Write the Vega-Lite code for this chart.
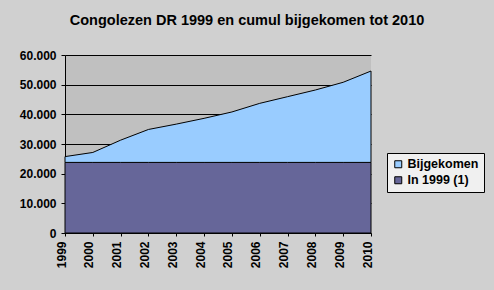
{
  "$schema": "https://vega.github.io/schema/vega-lite/v6.json",
  "width": 306,
  "height": 178,
  "autosize": {"type": "none"},
  "padding": {"left": 65, "top": 55, "right": 123, "bottom": 57},
  "background": "#d0d0d0",
  "title": {
    "text": "Congolezen DR 1999 en cumul bijgekomen tot 2010",
    "font": "Liberation Sans",
    "fontSize": 14.5,
    "fontWeight": "bold",
    "color": "black",
    "anchor": "middle",
    "dx": 29,
    "offset": 21
  },
  "data": {
    "values": [
      {"year": "1999", "series": "In 1999 (1)", "value": 23800, "ord": 1},
      {"year": "2000", "series": "In 1999 (1)", "value": 23800, "ord": 1},
      {"year": "2001", "series": "In 1999 (1)", "value": 23800, "ord": 1},
      {"year": "2002", "series": "In 1999 (1)", "value": 23800, "ord": 1},
      {"year": "2003", "series": "In 1999 (1)", "value": 23800, "ord": 1},
      {"year": "2004", "series": "In 1999 (1)", "value": 23800, "ord": 1},
      {"year": "2005", "series": "In 1999 (1)", "value": 23800, "ord": 1},
      {"year": "2006", "series": "In 1999 (1)", "value": 23800, "ord": 1},
      {"year": "2007", "series": "In 1999 (1)", "value": 23800, "ord": 1},
      {"year": "2008", "series": "In 1999 (1)", "value": 23800, "ord": 1},
      {"year": "2009", "series": "In 1999 (1)", "value": 23800, "ord": 1},
      {"year": "2010", "series": "In 1999 (1)", "value": 23800, "ord": 1},
      {"year": "1999", "series": "Bijgekomen", "value": 1950, "ord": 2},
      {"year": "2000", "series": "Bijgekomen", "value": 3350, "ord": 2},
      {"year": "2001", "series": "Bijgekomen", "value": 7500, "ord": 2},
      {"year": "2002", "series": "Bijgekomen", "value": 11100, "ord": 2},
      {"year": "2003", "series": "Bijgekomen", "value": 12900, "ord": 2},
      {"year": "2004", "series": "Bijgekomen", "value": 14850, "ord": 2},
      {"year": "2005", "series": "Bijgekomen", "value": 17000, "ord": 2},
      {"year": "2006", "series": "Bijgekomen", "value": 19900, "ord": 2},
      {"year": "2007", "series": "Bijgekomen", "value": 22150, "ord": 2},
      {"year": "2008", "series": "Bijgekomen", "value": 24400, "ord": 2},
      {"year": "2009", "series": "Bijgekomen", "value": 27000, "ord": 2},
      {"year": "2010", "series": "Bijgekomen", "value": 30800, "ord": 2}
    ]
  },
  "mark": {"type": "area", "stroke": "black", "strokeWidth": 1, "opacity": 1},
  "encoding": {
    "x": {
      "field": "year",
      "type": "ordinal",
      "scale": {"type": "point", "padding": 0},
      "axis": {
        "title": null,
        "labelAngle": -90,
        "labelFont": "Liberation Sans",
        "labelFontSize": 12,
        "labelFontWeight": "bold",
        "labelColor": "black",
        "labelPadding": 5,
        "labelOffset": -4,
        "tickSize": 3,
        "tickColor": "black",
        "domainColor": "black",
        "grid": false
      }
    },
    "y": {
      "field": "value",
      "type": "quantitative",
      "stack": "zero",
      "scale": {"domain": [0, 60000], "nice": false},
      "axis": {
        "title": null,
        "values": [0, 10000, 20000, 30000, 40000, 50000, 60000],
        "labelExpr": "replace(format(datum.value, ','), ',', '.')",
        "labelFont": "Liberation Sans",
        "labelFontSize": 12,
        "labelFontWeight": "bold",
        "labelColor": "black",
        "labelPadding": 5,
        "tickSize": 4,
        "tickColor": "black",
        "domainColor": "black",
        "grid": true,
        "gridColor": "black",
        "gridOpacity": 1,
        "gridWidth": 1
      }
    },
    "color": {
      "field": "series",
      "type": "nominal",
      "scale": {"domain": ["Bijgekomen", "In 1999 (1)"], "range": ["#99ccff", "#666699"]},
      "legend": {
        "orient": "none",
        "legendX": 322,
        "legendY": 98,
        "title": null,
        "symbolType": "square",
        "symbolSize": 49,
        "symbolStrokeColor": "black",
        "symbolStrokeWidth": 1,
        "symbolOpacity": 1,
        "labelFont": "Liberation Sans",
        "labelFontSize": 12.5,
        "labelFontWeight": "bold",
        "labelColor": "black",
        "labelOffset": 3,
        "strokeColor": "black",
        "fillColor": "#f0f0f0",
        "padding": 5,
        "rowPadding": 3
      }
    },
    "order": {"field": "ord", "type": "quantitative"}
  },
  "config": {"view": {"fill": "#c0c0c0", "stroke": null}}
}
